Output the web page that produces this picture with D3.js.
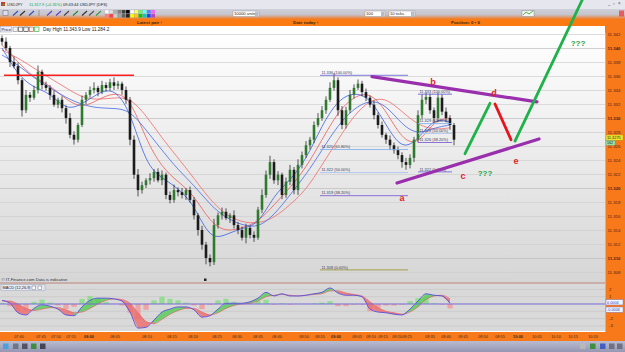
<!DOCTYPE html>
<html>
<head>
<meta charset="utf-8">
<script src="https://cdn.jsdelivr.net/npm/d3@7"></script>
<style>
  body { margin: 0; background: #fff; overflow: hidden; }
  svg { display: block; font-family: "Liberation Sans", Arial, sans-serif; }
</style>
</head>
<body>
<div id="chart"></div>
<script>
// ---- price bars (one close every bar, wicks in pips) ----
const firstOpen = 11.3414;
const closes = [
  11.3409, 11.3400, 11.3380, 11.3374, 11.3354, 11.3311, 11.3333, 11.3329, 11.3340, 11.3366,
  11.3347, 11.3343, 11.3333, 11.3319, 11.3326, 11.3314, 11.3300, 11.3276, 11.3269, 11.3290,
  11.3326, 11.3333, 11.3340, 11.3343, 11.3337, 11.3347, 11.3343, 11.3351, 11.3346, 11.3349,
  11.3340, 11.3326, 11.3269, 11.3219, 11.3197, 11.3204, 11.3211, 11.3214, 11.3223, 11.3211,
  11.3219, 11.3190, 11.3183, 11.3197, 11.3194, 11.3190, 11.3197, 11.3183, 11.3161, 11.3140,
  11.3119, 11.3100, 11.3094, 11.3147, 11.3161, 11.3166, 11.3157, 11.3161, 11.3147, 11.3140,
  11.3129, 11.3143, 11.3133, 11.3129, 11.3169, 11.3190, 11.3219, 11.3237, 11.3211, 11.3219,
  11.3190, 11.3209, 11.3226, 11.3197, 11.3233, 11.3247, 11.3261, 11.3269, 11.3290, 11.3300,
  11.3311, 11.3326, 11.3343, 11.3354, 11.3311, 11.3290, 11.3311, 11.3333, 11.3343, 11.3349,
  11.3337, 11.3329, 11.3319, 11.3304, 11.3290, 11.3276, 11.3269, 11.3261, 11.3254, 11.3247,
  11.3237, 11.3233, 11.3243, 11.3269, 11.3304, 11.3326, 11.3330, 11.3311, 11.3300, 11.3329,
  11.3309, 11.3300, 11.3290, 11.3269
];
const upWick = [
  4,6,3,8,5,3,7,4,6,9, 3,5,4,6,3,5,4,7,5,3, 6,4,5,8,3,6,4,5,7,4, 3,5,4,6,8,5,3,7,4,5,
  6,3,5,8,4,6,3,5,4,3, 6,4,5,9,4,6,5,3,7,4, 5,6,3,5,4,8,6,9,4,5, 3,6,7,4,8,5,6,4,5,7,
  6,5,8,10,4,6,5,7,5,6, 4,5,3,6,4,5,3,6,4,5, 4,6,5,4,7,8,6,5,4,7, 5,6,4,3
];
const dnWick = [
  5,4,7,3,6,9,4,6,3,5, 6,4,7,3,5,6,8,5,7,4, 3,6,4,5,6,3,5,4,6,5, 7,6,8,6,9,5,4,6,5,3,
  7,6,5,4,6,5,7,4,6,8, 7,9,6,4,5,6,3,7,5,6, 4,8,5,6,3,5,4,6,5,7, 6,4,5,6,7,5,4,6,5,3,
  4,5,3,4,8,6,5,4,5,3, 6,5,4,6,5,4,6,7,5,6, 8,7,5,6,4,5,6,5,7,6, 5,6,7,8
];
const PIP = 0.0001;

// ---- moving averages, sampled every 4 bars ----
const blueFast = [11.3400,11.3361,11.3343,11.3336,11.3311,11.3319,11.3336,11.3343,11.3311,11.3233,
  11.3214,11.3200,11.3176,11.3126,11.3133,11.3143,11.3147,11.3190,11.3211,11.3240,
  11.3290,11.3326,11.3337,11.3329,11.3290,11.3254,11.3269,11.3300,11.3294];
const blueSlow = [11.3390,11.3376,11.3357,11.3343,11.3329,11.3319,11.3314,11.3314,11.3311,11.3283,
  11.3254,11.3226,11.3204,11.3176,11.3157,11.3147,11.3143,11.3161,11.3190,11.3219,
  11.3254,11.3290,11.3314,11.3326,11.3319,11.3290,11.3276,11.3286,11.3290];
const redFast = [11.3404,11.3380,11.3357,11.3347,11.3326,11.3314,11.3326,11.3337,11.3329,11.3269,
  11.3229,11.3209,11.3190,11.3151,11.3137,11.3143,11.3151,11.3176,11.3200,11.3229,
  11.3269,11.3309,11.3331,11.3337,11.3311,11.3269,11.3261,11.3297,11.3300];
const redSlow = [11.3397,11.3386,11.3371,11.3357,11.3343,11.3329,11.3326,11.3329,11.3329,11.3304,
  11.3271,11.3243,11.3214,11.3183,11.3161,11.3151,11.3149,11.3157,11.3176,11.3197,
  11.3233,11.3269,11.3304,11.3326,11.3329,11.3309,11.3290,11.3283,11.3286];

// ---- MACD (12,26,9), sampled every 2 bars ----
const macd = [0.5,0.1,-1.2,-1.5,-0.6,-0.1,-0.3,-0.7,-1.5,-1.6, -0.4,0.5,0.8,0.8,0.7,0.4,-1.1,-3.3,-3.2,-2.2,
  -1.1,-0.7,-0.4,-0.4,-0.8,-1.8,-1.6,-0.7,0.1,0.1, 0.1,0.3,0.8,1.6,1.1,1.4,1.1,1.1,1.2,1.4,
  1.6,2.2,1.5,1.2,1.2,1.0,-0.7,-1.1,-1.2,-1.4, -1.5,-0.7,0.4,1.4,1.2,1.1,0.1];
const signal = [0.4,0.4,0.0,-0.6,-0.9,-0.7,-0.5,-0.5,-0.8,-1.2, -1.1,-0.6,0.0,0.5,0.7,0.6,0.1,-1.2,-2.4,-2.7,
  -2.1,-1.4,-0.9,-0.6,-0.6,-1.1,-1.5,-1.2,-0.6,-0.2, 0.0,0.1,0.4,1.0,1.2,1.3,1.2,1.1,1.2,1.3,
  1.4,1.8,1.8,1.5,1.3,1.1,0.3,-0.5,-1.0,-1.2, -1.4,-1.1,-0.4,0.6,1.1,1.2,0.7];
const hist = [0.1,-0.3,-1.0,-0.9,0.3,0.6,0.2,-0.2,-0.7,-0.4, 0.7,1.1,0.8,0.3,0.0,-0.2,-1.2,-2.1,-0.8,0.5,
  1.0,0.7,0.5,0.2,-0.2,-0.7,-0.1,0.5,0.7,0.3, 0.1,0.2,0.4,0.6,-0.1,0.1,-0.1,0.0,0.0,0.1,
  0.2,0.4,-0.3,-0.3,-0.1,-0.1,-1.0,-0.6,-0.2,-0.2, -0.1,0.4,0.8,0.8,0.1,-0.1,-0.6];

// ---- axes ----
const priceTicks = [11.342,11.340,11.338,11.336,11.334,11.332,11.330,11.328,11.326,11.324,
  11.322,11.320,11.318,11.316,11.314,11.312,11.310,11.308];
const timeLabels = ["07:40","07:45","07:50","07:55","08:00","08:05","08:10","08:15","08:20","08:25",
  "08:30","08:35","08:40","08:50","08:55","09:00","09:05","09:10","09:15","09:20","09:25",
  "09:35","09:40","09:45","09:50","09:55","10:00","10:05","10:10","10:15","10:20"];
const timeBars = [4.25,9.75,13.5,17.25,21.75,28.25,36.25,42.5,47.75,53.75,58.75,64,68.75,75.5,79.5,
  83.5,88.75,92.25,95.25,98.75,101.25,107,111,115.25,120.25,124.5,129,133.75,138.5,142.75,147.75];
const macdTicks = [2, 1, -2, -3];
const macdGrid = [2, 1, 0, -1, -2, -3];

// ---- drawings on the chart ----
const resistance = [[0.5, 11.3361], [33, 11.3361]];
const fibLevels = ["100.00%", "61.80%", "50.00%", "38.20%", "0.00%"];
const fibBig = { from: 79.5, to: 101.5, prices: [11.3361, 11.3255, 11.3222, 11.3189, 11.3083],
  labels: ["11.336", "11.325", "11.322", "11.319", "11.308"] };
const fibSmall = { from: 104, to: 112.5, prices: [11.3334, 11.3292, 11.3278, 11.3265, 11.3223],
  labels: ["11.333", "11.329", "11.328", "11.326", "11.322"] };
const purpleLines = [[[92.5, 11.3359], [133.75, 11.3323]], [[98.75, 11.3207], [134.25, 11.3270]]];
const greenLines = [[[115.75, 11.3249], [122, 11.3321]], [[128.25, 11.3267], [145.25, 11.3471]]];
const redLines = [[[123.25, 11.3320], [127.25, 11.3269]]];
const waveLabels = ["a", "b", "c", "d", "e"];
const waveBars = [100, 107.75, 115.25, 123, 128.5];
const wavePrices = [11.3186, 11.3351, 11.3217, 11.3335, 11.3239];
const questionBars = [120.75, 144];
const questionPrices = [11.3221, 11.3407];
const lastPrice = 11.3275;

// ---- layout ----
const W = 625, H = 352;
const plot = { left: 0, right: 605, top: 33, bottom: 282 };
const macdBox = { top: 284, bottom: 331 };

const svg = d3.select("#chart").append("svg").attr("width", W).attr("height", H);
const defs = svg.append("defs");

const x = d3.scaleLinear().domain([0, 150]).range([2, 602]);
const y = d3.scaleLinear().domain([11.30657, 11.34214]).range([plot.bottom, plot.top]);
const ym = d3.scaleLinear().domain([-3.7, 2.74]).range([macdBox.bottom, macdBox.top]);

// gradients
const gPlot = defs.append("linearGradient").attr("id", "gPlot").attr("x1", 0).attr("x2", 0).attr("y1", 0).attr("y2", 1);
gPlot.append("stop").attr("offset", "0%").attr("stop-color", "#ffffff");
gPlot.append("stop").attr("offset", "100%").attr("stop-color", "#d6d6d6");
const gTool = defs.append("linearGradient").attr("id", "gTool").attr("x1", 0).attr("x2", 0).attr("y1", 0).attr("y2", 1);
gTool.append("stop").attr("offset", "0%").attr("stop-color", "#cfd0da");
gTool.append("stop").attr("offset", "55%").attr("stop-color", "#c6c4cc");
gTool.append("stop").attr("offset", "100%").attr("stop-color", "#ee7c2c");
const gBottom = defs.append("linearGradient").attr("id", "gBottom").attr("x1", 0).attr("x2", 0).attr("y1", 0).attr("y2", 1);
gBottom.append("stop").attr("offset", "0%").attr("stop-color", "#b9bbcf");
gBottom.append("stop").attr("offset", "100%").attr("stop-color", "#9597b3");
defs.append("clipPath").attr("id", "clipPlot").append("rect")
  .attr("x", plot.left).attr("y", plot.top).attr("width", plot.right - plot.left).attr("height", plot.bottom - plot.top);

// ---- window chrome ----
svg.append("rect").attr("width", W).attr("height", 9).attr("fill", "#e6e7ee");
svg.append("rect").attr("x", 1).attr("y", 2).attr("width", 4).attr("height", 4).attr("fill", "#d33");
svg.append("rect").attr("x", 2.5).attr("y", 3.5).attr("width", 2).attr("height", 2).attr("fill", "#3a3");
const titleRow = svg.append("g").style("font-size", "4px");
titleRow.append("text").attr("x", 7).attr("y", 6.3).attr("fill", "#333").text("USDJPY");
titleRow.append("text").attr("x", 29).attr("y", 6.3).attr("fill", "#1f9a2f").text("11.317.9 (+0.31%)");
titleRow.append("text").attr("x", 63).attr("y", 6.3).attr("fill", "#222").text("09:43:44  USDJPY (DFS)");
[608, 613, 618].forEach((px, i) => {
  svg.append("text").attr("x", px).attr("y", 5).style("font-size", "4.5px").attr("fill", "#556")
    .text(["_", "▫", "×"][i]);
});

svg.append("rect").attr("y", 9).attr("width", W).attr("height", 10).attr("fill", "url(#gTool)");
// toolbar icons
svg.append("rect").attr("x", 3).attr("y", 10.5).attr("width", 5).attr("height", 5).attr("fill", "#dde").attr("stroke", "#667").attr("stroke-width", 0.5);
const iconCols = ["#3050c0", "#333", "#3050c0", "#555", "#6040c0", "#6040c0", "#444", "#2a8a2a", "#333", "#555", "#3a9a3a"];
[13, 20, 29, 39, 47, 56, 64, 73, 82, 89, 96].forEach((px, i) => {
  if (i === 3) {
    svg.append("line").attr("x1", px).attr("x2", px).attr("y1", 10).attr("y2", 16).attr("stroke", "#777").attr("stroke-width", 0.6);
  } else {
    svg.append("line").attr("x1", px).attr("x2", px + 5).attr("y1", 15.5).attr("y2", 11)
      .attr("stroke", iconCols[i]).attr("stroke-width", 1.1);
  }
});
const swatches = ["#ffffff", "#e0e0e0", "#b0b0b0", "#808080", "#404040", "#000000", "#ffffff", "#ffff60", "#60ff60", "#60ffff", "#6080ff", "#ff60ff",
  "#ff8080", "#ff4040", "#d0d0d0", "#a0a0a0", "#606060", "#202020", "#ffff00", "#ffcc00", "#00cc00", "#00cccc", "#2040ff", "#c040c0"];
swatches.forEach((c, i) => {
  svg.append("rect").attr("x", 105 + (i % 12) * 4.2).attr("y", 10 + Math.floor(i / 12) * 4).attr("width", 3.8).attr("height", 3.6)
    .attr("fill", c).attr("stroke", "#999").attr("stroke-width", 0.2);
});
function inputBox(x0, w, label) {
  svg.append("rect").attr("x", x0).attr("y", 11).attr("width", w).attr("height", 5.5).attr("fill", "#fff").attr("stroke", "#888").attr("stroke-width", 0.4);
  svg.append("text").attr("x", x0 + 1).attr("y", 15.2).style("font-size", "4.2px").attr("fill", "#222").text(label);
  svg.append("rect").attr("x", x0 + w - 4).attr("y", 11.5).attr("width", 3.5).attr("height", 4.5).attr("fill", "#b8bcc8");
}
inputBox(233, 26, "10000 units");
inputBox(365, 20, "          100");
inputBox(389, 26, "10 ticks");
svg.append("rect").attr("x", 522).attr("y", 10.5).attr("width", 12).attr("height", 6).attr("fill", "#f4f4f4").attr("stroke", "#777").attr("stroke-width", 0.4);
svg.append("polyline").attr("points", "523,15 526,12 529,14 533,11").attr("fill", "none").attr("stroke", "#2a2").attr("stroke-width", 0.8);
svg.append("rect").attr("x", 619).attr("y", 10.5).attr("width", 5).attr("height", 6).attr("fill", "#e44").attr("opacity", 0.8);

// orange header band
svg.append("rect").attr("y", 19).attr("width", W).attr("height", 7).attr("fill", "#fb7a12");
const band = svg.append("g").style("font-size", "4.4px").style("font-weight", "bold").attr("fill", "#3a2a10");
band.append("text").attr("x", 137).attr("y", 24).text("Latest pair  ›");
band.append("text").attr("x", 293).attr("y", 24).text("Date today  ›");
band.append("text").attr("x", 451).attr("y", 24).text("Position:  0  ▪  0");

// price row
svg.append("rect").attr("y", 26).attr("width", plot.right).attr("height", 7).attr("fill", "#fff");
svg.append("rect").attr("x", 0.5).attr("y", 26.5).attr("width", 11).attr("height", 5.5).attr("fill", "#eef").attr("stroke", "#889").attr("stroke-width", 0.4);
svg.append("text").attr("x", 1.5).attr("y", 30.8).style("font-size", "4.2px").attr("fill", "#222").text("Price");
["#888", "#444", "#222", "#c33", "#3a3"].forEach((c, i) => {
  svg.append("rect").attr("x", 13 + i * 5.4).attr("y", 27).attr("width", 4.4).attr("height", 4.6).attr("fill", "#f4f4f4").attr("stroke", c).attr("stroke-width", 0.6);
});
svg.append("text").attr("x", 43).attr("y", 31).style("font-size", "4.6px").attr("fill", "#222").text("Day High 11.343.9  Low 11.284.2");

// ---- main plot ----
svg.append("rect").attr("x", plot.left).attr("y", plot.top).attr("width", plot.right - plot.left)
  .attr("height", plot.bottom - plot.top).attr("fill", "url(#gPlot)");
svg.append("g").selectAll("line").data(priceTicks).join("line")
  .attr("x1", plot.left).attr("x2", plot.right)
  .attr("y1", d => Math.round(y(d)) + 0.5).attr("y2", d => Math.round(y(d)) + 0.5)
  .attr("stroke", d => Math.abs(d * 100 - Math.round(d * 100)) < 1e-6 ? "#bdbdbd" : "#cfcfcf")
  .attr("stroke-width", 0.7);

const chartG = svg.append("g").attr("clip-path", "url(#clipPlot)");

// moving averages
const maLine = d3.line().x((d, i) => x(i * 4)).y(d => y(d)).curve(d3.curveBasis);
[[redSlow, "#f07a7a", 0.9], [redFast, "#ec5c5c", 0.8], [blueSlow, "#5a78e6", 0.9], [blueFast, "#3d5fe0", 0.8]]
  .forEach(([arr, col, w]) => {
    chartG.append("path").datum(arr).attr("d", maLine).attr("fill", "none").attr("stroke", col).attr("stroke-width", w);
  });

// candles
const bars = closes.map((c, i) => {
  const o = i ? closes[i - 1] : firstOpen;
  return { i, o, c, h: Math.max(o, c) + upWick[i] * PIP, l: Math.min(o, c) - dnWick[i] * PIP };
});
const candle = chartG.append("g").selectAll("g").data(bars).join("g");
candle.append("line")
  .attr("x1", d => x(d.i)).attr("x2", d => x(d.i))
  .attr("y1", d => y(d.h)).attr("y2", d => y(d.l))
  .attr("stroke", "#111").attr("stroke-width", 0.7);
candle.append("rect")
  .attr("x", d => x(d.i) - 1.3).attr("width", 2.6)
  .attr("y", d => y(Math.max(d.o, d.c)))
  .attr("height", d => Math.max(0.8, Math.abs(y(d.o) - y(d.c))))
  .attr("fill", d => d.c >= d.o ? "#2f7a2f" : "#1c1c1c");

// resistance line
svg.append("line")
  .attr("x1", x(resistance[0][0])).attr("y1", y(resistance[0][1]))
  .attr("x2", x(resistance[1][0])).attr("y2", y(resistance[1][1]))
  .attr("stroke", "#ff1e1e").attr("stroke-width", 1.4);

// fibonacci retracements
const fibColors = ["#6b68d8", "#86b2ec", "#a7c4f0", "#8262d6", "#9a9a3c"];
function drawFib(f, zeroColor) {
  const g = svg.append("g");
  f.prices.forEach((p, k) => {
    const yy = y(p);
    g.append("line").attr("x1", x(f.from)).attr("x2", x(f.to)).attr("y1", yy).attr("y2", yy)
      .attr("stroke", k === 4 && zeroColor ? zeroColor : fibColors[k]).attr("stroke-width", 0.9);
    g.append("text").attr("x", x(f.from) + 1.5).attr("y", yy - 1.2)
      .style("font-size", "3.9px").attr("fill", "#3a3a55")
      .text(`${f.labels[k]} (${fibLevels[k]})`);
  });
}
drawFib(fibBig, null);
drawFib(fibSmall, "#6c6cd6");

// plot border and footer
svg.append("line").attr("x1", 0).attr("x2", plot.right).attr("y1", 283).attr("y2", 283).attr("stroke", "#8a4a3a").attr("stroke-width", 0.9);
svg.append("text").attr("x", 1.5).attr("y", 281).style("font-size", "4.2px").attr("fill", "#333")
  .text("© IT-Finance.com  Data is indicative");
svg.append("rect").attr("x", 204).attr("y", 278.5).attr("width", 2.5).attr("height", 2.5).attr("fill", "#222");

// ---- MACD panel ----
svg.append("rect").attr("x", 0).attr("y", macdBox.top).attr("width", plot.right).attr("height", macdBox.bottom - macdBox.top).attr("fill", "#d9d9d9");
svg.append("g").selectAll("line").data(macdGrid).join("line")
  .attr("x1", 0).attr("x2", plot.right).attr("y1", d => ym(d)).attr("y2", d => ym(d))
  .attr("stroke", "#c2c2c2").attr("stroke-width", 0.6);

const macdG = svg.append("g");
macdG.selectAll("rect.h").data(hist).join("rect").attr("class", "h")
  .attr("x", (d, k) => x(k * 2) - 2.6).attr("width", 5.2)
  .attr("y", d => ym(Math.max(0, d))).attr("height", d => Math.abs(ym(d) - ym(0)))
  .attr("fill", d => d >= 0 ? "#86de86" : "#f29a9a").attr("opacity", 0.85);

const ribbon = d3.area().x(d => x(d.k * 2)).y0(d => ym(d.s)).y1(d => ym(d.m));
for (let k = 0; k < macd.length - 1; k++) {
  const seg = [{ k, m: macd[k], s: signal[k] }, { k: k + 1, m: macd[k + 1], s: signal[k + 1] }];
  const up = (macd[k] + macd[k + 1]) >= (signal[k] + signal[k + 1]);
  macdG.append("path").datum(seg).attr("d", ribbon)
    .attr("fill", up ? "#52cc52" : "#ee6a6a").attr("opacity", 0.8);
}
svg.append("line").attr("x1", 0).attr("x2", plot.right).attr("y1", ym(0)).attr("y2", ym(0))
  .attr("stroke", "#7468e0").attr("stroke-width", 0.9);
const mLine = d3.line().x((d, k) => x(k * 2)).y(d => ym(d)).curve(d3.curveMonotoneX);
macdG.append("path").datum(signal).attr("d", mLine).attr("fill", "none").attr("stroke", "#e06a6a").attr("stroke-width", 0.7);
macdG.append("path").datum(macd).attr("d", mLine).attr("fill", "none").attr("stroke", "#5a4ee0").attr("stroke-width", 0.9);

svg.append("rect").attr("x", 1).attr("y", 284.8).attr("width", 44).attr("height", 6).attr("fill", "#e4e8f2").attr("stroke", "#8a96aa").attr("stroke-width", 0.4);
svg.append("text").attr("x", 2.5).attr("y", 289.4).style("font-size", "3.9px").attr("fill", "#223").text("MACD (12,26,9)");
svg.append("rect").attr("x", 32).attr("y", 286).attr("width", 3.8).attr("height", 3.8).attr("fill", "#fff").attr("stroke", "#556").attr("stroke-width", 0.4);
svg.append("rect").attr("x", 38).attr("y", 286).attr("width", 3.8).attr("height", 3.8).attr("fill", "#fff").attr("stroke", "#556").attr("stroke-width", 0.4);

// ---- right axis band ----
svg.append("rect").attr("x", plot.right).attr("y", 19).attr("width", W - plot.right).attr("height", 322).attr("fill", "#f7791a");
svg.append("line").attr("x1", plot.right + 0.5).attr("x2", plot.right + 0.5).attr("y1", 33).attr("y2", 332).attr("stroke", "#b7c2d6").attr("stroke-width", 0.8);
svg.append("g").selectAll("text").data(priceTicks).join("text")
  .attr("x", 607.5).attr("y", d => y(d) + 1.6)
  .style("font-size", "4.3px")
  .style("font-weight", d => Math.abs(d * 100 - Math.round(d * 100)) < 1e-6 ? "bold" : "normal")
  .attr("fill", "#3a2a1a")
  .text(d => d3.format(".3f")(d));
const tagY = y(lastPrice) + 2.3;
svg.append("rect").attr("x", 606).attr("y", tagY - 2.8).attr("width", 17).attr("height", 5.2).attr("fill", "#f2e22c").attr("stroke", "#a09020").attr("stroke-width", 0.3);
svg.append("text").attr("x", 607).attr("y", tagY + 1.3).style("font-size", "3.9px").attr("fill", "#222").text(d3.format(".4f")(lastPrice));
svg.append("rect").attr("x", 606).attr("y", tagY + 2.8).attr("width", 9).attr("height", 4.6).attr("fill", "#9fe0a0").attr("stroke", "#4a8").attr("stroke-width", 0.3);
svg.append("text").attr("x", 607).attr("y", tagY + 6.3).style("font-size", "3.7px").attr("fill", "#222").text("162");

svg.append("g").selectAll("text").data(macdTicks).join("text")
  .attr("x", 609).attr("y", d => ym(d) + 1.5).style("font-size", "4.3px").attr("fill", "#3a2a1a").text(d => d);
[["0.0004", 0.2], ["-0.0006", -0.8]].forEach(([t, v]) => {
  svg.append("rect").attr("x", 606).attr("y", ym(v) - 2.8).attr("width", 17).attr("height", 5.2).attr("fill", "#f4f6ff").attr("stroke", "#6a7ad8").attr("stroke-width", 0.4);
  svg.append("text").attr("x", 607).attr("y", ym(v) + 1.2).style("font-size", "3.8px").attr("fill", "#3040b0").text(t);
});

// ---- time axis ----
svg.append("rect").attr("x", 0).attr("y", 332).attr("width", W).attr("height", 9).attr("fill", "#f7791a");
svg.append("g").selectAll("text").data(timeLabels).join("text")
  .attr("x", (d, k) => x(timeBars[k])).attr("y", 338.3)
  .attr("text-anchor", "middle").style("font-size", "3.9px")
  .style("font-weight", d => d.endsWith(":00") ? "bold" : "normal")
  .attr("fill", "#3a2a1a").text(d => d);

// bottom toolbar
svg.append("rect").attr("x", 0).attr("y", 341).attr("width", W).attr("height", 11).attr("fill", "url(#gBottom)");
[["#3aa0e0", 3], ["#607080", 13], ["#445", 22], ["#2a8a2a", 31], ["#334", 40]].forEach(([c, px]) => {
  svg.append("rect").attr("x", px).attr("y", 343.5).attr("width", 5.5).attr("height", 5.5).attr("fill", c).attr("opacity", 0.85);
});
[["#bbb", 580], ["#2a8a2a", 590], ["#3050c0", 600], ["#667", 609], ["#667", 617]].forEach(([c, px]) => {
  svg.append("rect").attr("x", px).attr("y", 343.5).attr("width", 5.5).attr("height", 5.5).attr("fill", c).attr("opacity", 0.85);
});

// ---- hand drawn analysis (on top) ----
const seg = d3.line().x(d => x(d[0])).y(d => y(d[1]));
const ann = svg.append("g").attr("stroke-linecap", "round").attr("fill", "none");
purpleLines.forEach(l => ann.append("path").attr("d", seg(l)).attr("stroke", "#9a2fae").attr("stroke-width", 3.2));
greenLines.forEach(l => ann.append("path").attr("d", seg(l)).attr("stroke", "#1fb24a").attr("stroke-width", 2.8));
redLines.forEach(l => ann.append("path").attr("d", seg(l)).attr("stroke", "#e8141c").attr("stroke-width", 2.8));

svg.append("g").selectAll("text").data(waveLabels).join("text")
  .attr("x", (d, k) => x(waveBars[k])).attr("y", (d, k) => y(wavePrices[k]) + 3)
  .attr("text-anchor", "middle").style("font-size", "9px").style("font-weight", "bold")
  .attr("fill", "#e0242a").text(d => d);
svg.append("g").selectAll("text").data(questionBars).join("text")
  .attr("x", d => x(d)).attr("y", (d, k) => y(questionPrices[k]) + 3)
  .attr("text-anchor", "middle").style("font-size", "8px").style("font-weight", "bold")
  .attr("fill", "#27a245").text("???");
</script>
</body>
</html>
